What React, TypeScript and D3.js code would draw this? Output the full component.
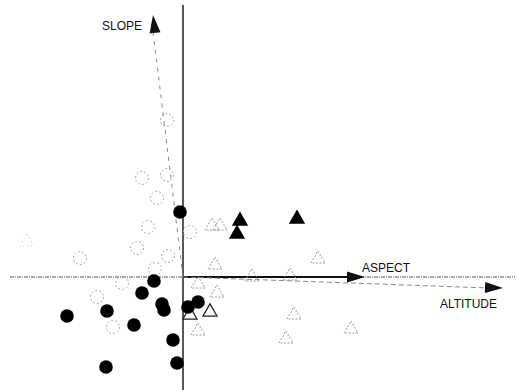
import React from 'react'
import * as d3 from 'd3'

// ordination scores (axis 1, axis 2)
const filledCircles: [number, number][] = [
  [-0.03, 0.65], [-0.29, -0.04], [-0.41, -0.16], [-0.21, -0.27], [-0.19, -0.33],
  [-1.16, -0.39], [-0.76, -0.34], [-0.49, -0.48], [0.15, -0.25], [0.05, -0.30],
  [-0.10, -0.63], [-0.77, -0.90], [-0.06, -0.86],
]
const openCircles: [number, number][] = [
  [-0.16, 1.57], [-0.16, 1.02], [-0.41, 0.99], [-0.26, 0.79], [-0.35, 0.50],
  [0.07, 0.45], [-1.03, 0.19], [-0.15, 0.21], [-0.28, 0.08], [-0.86, -0.20],
  [-0.70, -0.50], [-0.46, 0.29], [-0.61, -0.06],
]
const filledTriangles: [number, number][] = [[0.57, 0.56], [0.54, 0.43], [1.14, 0.58]]
const openTriangles: [number, number][] = [
  [0.29, 0.51], [0.37, 0.51], [0.32, 0.12], [1.35, 0.18], [0.69, 0.0], [1.07, 0.01],
  [0.15, -0.07], [0.34, -0.16], [0.15, -0.54], [1.11, -0.38], [1.03, -0.62],
  [1.68, -0.52],
]
// very faint one at far left
const faintTriangles: [number, number][] = [[-1.56, 0.35]]
const darkTriangles: [number, number][] = [[0.27, -0.35], [0.07, -0.38]]

// environmental vectors
const vectorNames = ['SLOPE', 'ASPECT', 'ALTITUDE']
const vectorTips: [number, number][] = [[-0.30, 2.62], [1.82, 0.0], [3.20, -0.11]]

const W = 518, H = 390

export default function App() {
  const x = d3.scaleLinear().domain([-1.73, 3.32]).range([10, 515])
  const y = d3.scaleLinear().domain([-1.13, 2.72]).range([390, 5])
  const tri = d3.symbol(d3.symbolTriangle, 85)
  const bigTri = d3.symbol(d3.symbolTriangle, 115)
  const ox = x(0), oy = y(0)

  const arrowHead = (tx: number, ty: number, len: number, half: number) => {
    const px = x(tx), py = y(ty)
    const ang = Math.atan2(py - oy, px - ox)
    const bx = px - len * Math.cos(ang), by = py - len * Math.sin(ang)
    const nx = -Math.sin(ang) * half, ny = Math.cos(ang) * half
    return `M${px},${py}L${bx + nx},${by + ny}L${bx - nx},${by - ny}Z`
  }

  const font = 'Liberation Sans, Arial, sans-serif'

  return (
    <svg width={W} height={H} style={{ position: 'absolute', left: 0, top: 0, background: '#fff' }}>
      {/* axes */}
      <line x1={x(-1.73)} x2={x(3.32)} y1={oy} y2={oy} stroke="#555" strokeWidth={1} strokeDasharray="4,1,1,1" />
      <line x1={ox} x2={ox} y1={y(2.72)} y2={y(-1.13)} stroke="#222" strokeWidth={1.5} />

      {/* vectors */}
      <line x1={ox} y1={oy} x2={x(vectorTips[0][0])} y2={y(vectorTips[0][1]) + 16} stroke="#888" strokeWidth={1} strokeDasharray="4,5" />
      <path d={arrowHead(vectorTips[0][0], vectorTips[0][1], 18, 5.5)} fill="#111" />
      <line x1={ox} y1={oy} x2={x(vectorTips[1][0]) - 14} y2={y(vectorTips[1][1])} stroke="#111" strokeWidth={2} />
      <path d={arrowHead(vectorTips[1][0], vectorTips[1][1], 18, 5.5)} fill="#111" />
      <line x1={ox} y1={oy} x2={x(vectorTips[2][0]) - 14} y2={y(vectorTips[2][1])} stroke="#888" strokeWidth={1} strokeDasharray="5,3" />
      <path d={arrowHead(vectorTips[2][0], vectorTips[2][1], 18, 5.5)} fill="#111" />

      <text x={x(vectorTips[0][0]) - 11} y={30} textAnchor="end" fontFamily={font} fontSize={12} fill="#111">{vectorNames[0]}</text>
      <text x={x(vectorTips[1][0]) - 3} y={y(vectorTips[1][1]) - 5} fontFamily={font} fontSize={12} fill="#111">{vectorNames[1]}</text>
      <text x={x(vectorTips[2][0]) - 6} y={y(vectorTips[2][1]) + 20} textAnchor="end" fontFamily={font} fontSize={12} fill="#111">{vectorNames[2]}</text>

      {/* sites */}
      {openCircles.map((d, i) => (
        <circle key={'oc' + i} cx={x(d[0])} cy={y(d[1])} r={6.5} fill="none" stroke="#aaa" strokeWidth={1} strokeDasharray="2,2" />
      ))}
      {openTriangles.map((d, i) => (
        <path key={'ot' + i} d={tri() as string} transform={`translate(${x(d[0])},${y(d[1])})`} fill="none" stroke="#999" strokeWidth={1} strokeDasharray="2,1.5" />
      ))}
      {faintTriangles.map((d, i) => (
        <path key={'ft0' + i} d={tri() as string} transform={`translate(${x(d[0])},${y(d[1])})`} fill="none" stroke="#ccc" strokeWidth={1} strokeDasharray="1,3" />
      ))}
      {darkTriangles.map((d, i) => (
        <path key={'dt' + i} d={tri() as string} transform={`translate(${x(d[0])},${y(d[1])})`} fill="#fff" stroke="#222" strokeWidth={1.3} />
      ))}
      {filledTriangles.map((d, i) => (
        <path key={'ft' + i} d={bigTri() as string} transform={`translate(${x(d[0])},${y(d[1])})`} fill="#000" />
      ))}
      {filledCircles.map((d, i) => (
        <circle key={'fc' + i} cx={x(d[0])} cy={y(d[1])} r={6.8} fill="#000" />
      ))}
    </svg>
  )
}
